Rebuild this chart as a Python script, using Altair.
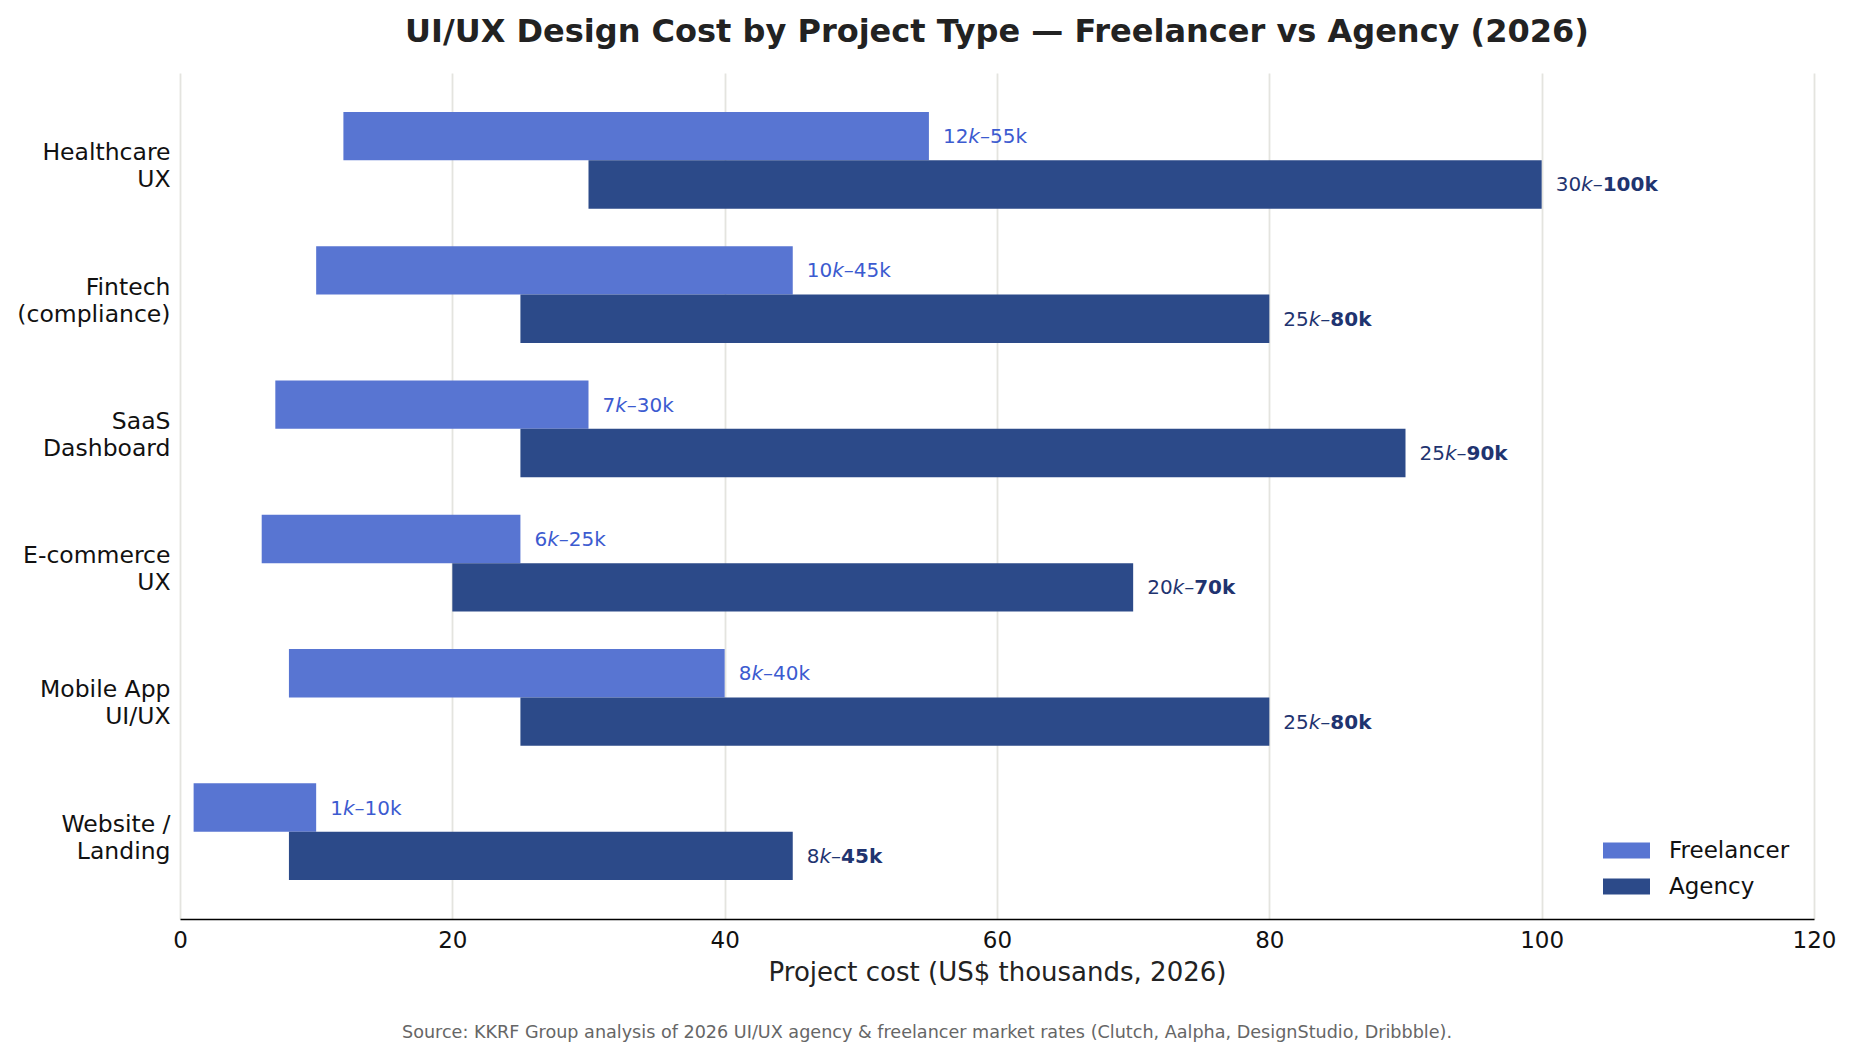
import altair as alt
import pandas as pd

categories = ["Healthcare|UX", "Fintech|(compliance)", "SaaS|Dashboard",
              "E-commerce|UX", "Mobile App|UI/UX", "Website /|Landing"]
series = ["Freelancer", "Agency"]
freelancer_low = [12, 10, 7, 6, 8, 1]
freelancer_high = [55, 45, 30, 25, 40, 10]
agency_low = [30, 25, 25, 20, 25, 8]
agency_high = [100, 80, 90, 70, 80, 45]

title = "UI/UX Design Cost by Project Type \u2014 Freelancer vs Agency (2026)"
x_title = "Project cost (US$ thousands, 2026)"
source = ("Source: KKRF Group analysis of 2026 UI/UX agency & freelancer market rates "
          "(Clutch, Aalpha, DesignStudio, Dribbble).")

C_FREE = "#5875D2"
C_AGEN = "#2C4A89"
T_FREE = "#3C5BD0"
T_AGEN = "#1F3470"
FONT = "DejaVu Sans"
FS = 20
DIGIT_W = 0.636 * FS
KDASH_W = (0.579 + 0.5) * FS
PAD = 14

rows = []
for s, lows, highs in [("Freelancer", freelancer_low, freelancer_high),
                       ("Agency", agency_low, agency_high)]:
    for c, lo, hi in zip(categories, lows, highs):
        rows.append({"cat": c, "series": s, "low": lo, "high": hi,
                     "p1": str(lo), "p2": "k\u2013", "p3": f"{hi}k",
                     "nd": len(str(lo))})
df = pd.DataFrame(rows)

base = alt.Chart(df)

y_enc = alt.Y("cat:N", sort=categories, title=None,
              scale=alt.Scale(paddingInner=0.28, paddingOuter=0.29),
              axis=alt.Axis(labelExpr="split(datum.label, '|')", labelFontSize=23.5,
                            labelLineHeight=27, labelPadding=10, labelColor="#111",
                            labelOffset=-7,
                            domain=False, ticks=False, labelFont=FONT))
yoff_enc = alt.YOffset("series:N", sort=series,
                       scale=alt.Scale(paddingInner=0, paddingOuter=0))

legend_path = "M-1,-0.34L1,-0.34L1,0.34L-1,0.34Z"

bars = base.mark_bar(opacity=1).encode(
    x=alt.X("low:Q", title=x_title,
            scale=alt.Scale(domain=[0, 120], nice=False),
            axis=alt.Axis(values=[0, 20, 40, 60, 80, 100, 120], grid=True,
                          gridColor="#e4e4df", gridWidth=1.8, ticks=False,
                          labelFlush=False,
                          domainColor="#000", domainWidth=1.6,
                          labelFontSize=23, labelPadding=10, labelColor="#111",
                          titleFontSize=26, titleFontWeight="normal",
                          titlePadding=7, titleColor="#222",
                          labelFont=FONT, titleFont=FONT)),
    x2="high:Q",
    y=y_enc,
    yOffset=yoff_enc,
    color=alt.Color("series:N", sort=series,
                    scale=alt.Scale(domain=series, range=[C_FREE, C_AGEN]),
                    legend=alt.Legend(title=None, orient="none", legendX=1423, legendY=754,
                                      symbolType=legend_path, symbolSize=2209,
                                      symbolStrokeWidth=0, symbolOpacity=1,
                                      labelFontSize=23, labelOffset=19,
                                      labelFont=FONT, labelColor="#111",
                                      rowPadding=0)),
)

tcolor = alt.condition("datum.series == 'Freelancer'", alt.value(T_FREE), alt.value(T_AGEN))


def part(field, dx, filt, style="normal", weight="normal"):
    return base.transform_filter(filt).mark_text(
        align="left", baseline="middle", fontSize=FS, font=FONT,
        fontStyle=style, fontWeight=weight, dx=dx, dy=1).encode(
        x="high:Q", y=alt.Y("cat:N", sort=categories), yOffset=yoff_enc,
        text=f"{field}:N", color=tcolor)


layers = [bars, part("p1", PAD, "true")]
for nd in (1, 2):
    layers.append(part("p2", PAD + nd * DIGIT_W, f"datum.nd == {nd}", style="italic"))
    layers.append(part("p3", PAD + nd * DIGIT_W + KDASH_W,
                       f"datum.nd == {nd} && datum.series == 'Freelancer'"))
    layers.append(part("p3", PAD + nd * DIGIT_W + KDASH_W,
                       f"datum.nd == {nd} && datum.series == 'Agency'", weight="bold"))

src = alt.Chart(pd.DataFrame({"t": [source]})).mark_text(
    fontSize=17.6, color="#666", font=FONT, align="center", baseline="middle"
).encode(text="t:N", x=alt.value(747), y=alt.value(960))
layers.append(src)

chart = alt.layer(*layers).properties(
    width=1634, height=846,
    autosize=alt.AutoSizeParams(type="none"),
    padding={"left": 180, "top": 73, "right": 38, "bottom": 142},
    title=alt.TitleParams(title, fontSize=32, fontWeight="bold", font=FONT,
                          color="#222", anchor="middle", offset=24),
).configure_view(stroke=None)

chart.save("out.html", embed_options={"renderer": "svg", "actions": False})
